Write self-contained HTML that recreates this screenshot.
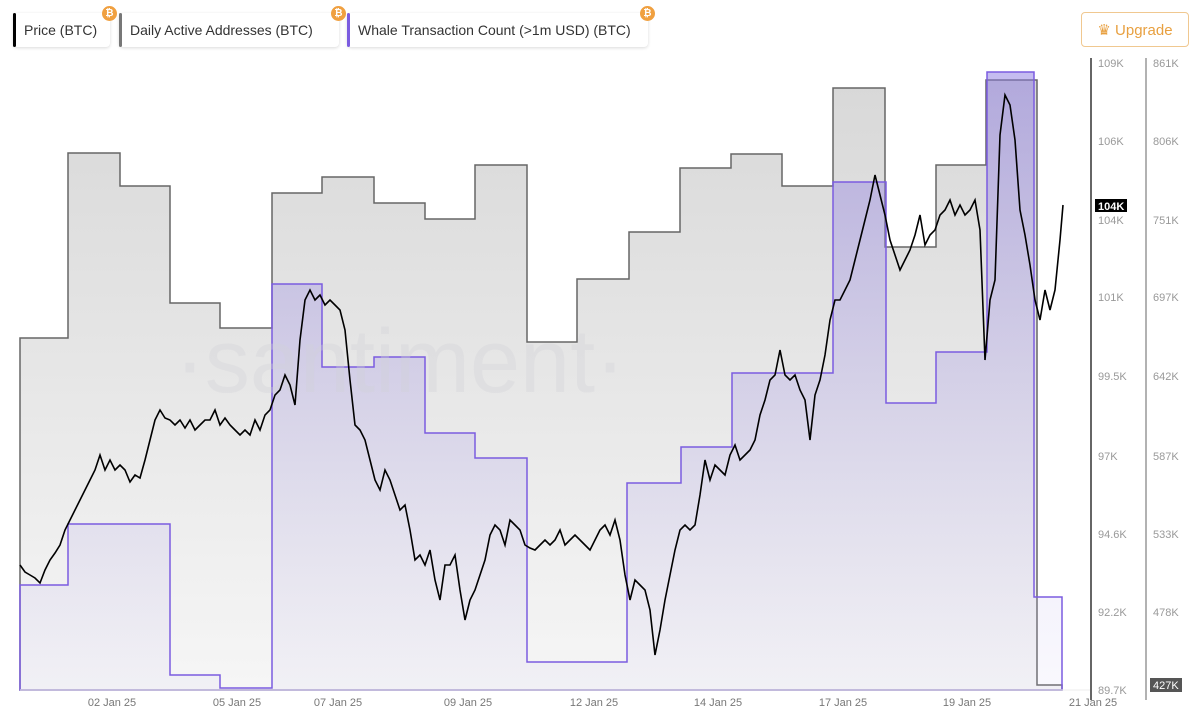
<!DOCTYPE html>
<html><head><meta charset="utf-8"><style>
body{margin:0;width:1199px;height:715px;background:#fff;font-family:"Liberation Sans",sans-serif;overflow:hidden;position:relative}
.lg{position:absolute;top:13px;height:34px;background:#fff;border-radius:4px;box-shadow:0 1px 3px rgba(0,0,0,.15);font-size:14px;color:#333;line-height:34px;padding-left:11px;box-sizing:border-box;white-space:nowrap}
.lg:before{content:"";position:absolute;left:0;top:0;bottom:0;width:3px;border-radius:2px;background:var(--c)}
.b{position:absolute;top:-7px;right:-7px;width:15px;height:15px;border-radius:50%;background:#f0a040;color:#fff;font-size:10px;line-height:15px;text-align:center;font-weight:bold}
.up{position:absolute;left:1081px;top:12px;width:108px;height:35px;border:1px solid #f0c890;border-radius:4px;color:#e8a040;font-size:15px;line-height:35px;text-align:center;box-sizing:border-box}
</style></head><body>
<div class="lg" style="left:13px;width:97px;--c:#000">Price (BTC)<span class="b">₿</span></div>
<div class="lg" style="left:119px;width:220px;--c:#777">Daily Active Addresses (BTC)<span class="b">₿</span></div>
<div class="lg" style="left:347px;width:301px;--c:#7b5ce0">Whale Transaction Count (&gt;1m USD) (BTC)<span class="b">₿</span></div>
<div class="up">♛ Upgrade</div>
<svg width="1199" height="715" style="position:absolute;left:0;top:0" font-family="Liberation Sans, sans-serif">
<defs>
<linearGradient id="g" x1="0" y1="0" x2="0" y2="1"><stop offset="0" stop-color="#d8d8d8"/><stop offset="1" stop-color="#f6f6f6"/></linearGradient>
<linearGradient id="p" x1="0" y1="0" x2="0" y2="1"><stop offset="0" stop-color="#8a78e0" stop-opacity=".5"/><stop offset="1" stop-color="#c8bff0" stop-opacity=".1"/></linearGradient>
</defs>
<path d="M20,690 V338 H68 V153 H120 V186 H170 V303 H220 V328 H272 V193 H322 V177 H374 V203 H425 V219 H475 V165 H527 V342 H577 V279 H629 V232 H680 V168 H731 V154 H782 V186 H833 V88 H885 V247 H936 V165 H986 V80 H1037 V685 H1062 V690 Z" fill="url(#g)" stroke="#666" stroke-width="1.5"/>
<path d="M20,690 V585 H68 V524 H170 V675 H220 V688 H272 V284 H322 V367 H374 V357 H425 V433 H475 V458 H527 V662 H627 V483 H681 V447 H732 V373 H833 V182 H886 V403 H936 V352 H987 V72 H1034 V597 H1062 V690 Z" fill="url(#p)" stroke="#7b5ce0" stroke-width="1.5"/>
<text x="400" y="392" font-size="90" fill="#d0d0d8" fill-opacity=".35" text-anchor="middle">·santiment·</text>
<polyline fill="none" stroke="#000" stroke-width="1.6" points="20,565 25,572 30,575 35,578 40,583 45,570 50,560 55,553 60,545 65,530 70,520 75,510 80,500 85,490 90,480 95,470 100,455 105,470 110,460 115,470 120,465 125,470 130,482 135,475 140,478 145,460 150,440 155,420 160,410 165,418 170,420 175,425 180,420 185,428 190,420 195,430 200,425 205,420 210,420 215,410 220,425 225,418 230,425 235,430 240,435 245,430 250,435 255,420 260,430 265,415 270,410 275,395 280,390 285,375 290,385 295,405 300,340 305,300 310,290 315,300 320,295 325,305 330,300 335,305 340,310 345,330 350,380 355,425 360,430 365,440 370,460 375,480 380,490 385,470 390,480 395,495 400,510 405,505 410,530 415,560 420,555 425,565 430,550 435,580 440,600 445,565 450,565 455,555 460,590 465,620 470,600 475,590 480,575 485,560 490,535 495,525 500,530 505,545 510,520 515,525 520,530 525,545 530,548 535,550 540,545 545,540 550,545 555,540 560,530 565,545 570,540 575,535 580,540 585,545 590,550 595,540 600,530 605,525 610,535 615,520 620,540 625,575 630,600 635,580 640,585 645,590 650,610 655,655 660,630 665,600 670,575 675,550 680,530 685,525 690,530 695,525 700,495 705,460 710,480 715,465 720,470 725,475 730,455 735,445 740,460 745,455 750,450 755,440 760,415 765,400 770,380 775,375 780,350 785,375 790,380 795,375 800,390 805,400 810,440 815,395 820,380 825,355 830,320 835,300 840,300 845,290 850,280 855,260 860,240 865,220 870,200 875,175 880,195 885,215 890,240 895,255 900,270 905,260 910,250 915,235 920,215 925,245 930,235 935,230 940,215 945,210 950,200 955,215 960,205 965,215 970,210 975,200 980,230 985,360 990,300 995,280 1000,135 1005,95 1010,105 1015,140 1020,210 1025,235 1030,265 1035,300 1040,320 1045,290 1050,310 1055,290 1060,240 1063,205"/>
<line x1="20" y1="690" x2="1090" y2="690" stroke="#eee"/>
<line x1="1091" y1="58" x2="1091" y2="700" stroke="#333" stroke-width="1.5"/>
<line x1="1146" y1="58" x2="1146" y2="700" stroke="#999" stroke-width="1.5"/>
<g font-size="11" fill="#999">
<text x="1098" y="67">109K</text><text x="1098" y="145">106K</text><text x="1098" y="224">104K</text><text x="1098" y="301">101K</text><text x="1098" y="380">99.5K</text><text x="1098" y="460">97K</text><text x="1098" y="538">94.6K</text><text x="1098" y="616">92.2K</text><text x="1098" y="694">89.7K</text>
<text x="1153" y="67">861K</text><text x="1153" y="145">806K</text><text x="1153" y="224">751K</text><text x="1153" y="301">697K</text><text x="1153" y="380">642K</text><text x="1153" y="460">587K</text><text x="1153" y="538">533K</text><text x="1153" y="616">478K</text>
</g>
<rect x="1095" y="199" width="32" height="13" fill="#000"/><text x="1098" y="210" font-size="11" fill="#fff" font-weight="bold">104K</text>
<rect x="1150" y="678" width="32" height="14" fill="#555"/><text x="1153" y="689" font-size="11" fill="#fff">427K</text>
<g font-size="11" fill="#777" text-anchor="middle">
<text x="112" y="706">02 Jan 25</text><text x="237" y="706">05 Jan 25</text><text x="338" y="706">07 Jan 25</text><text x="468" y="706">09 Jan 25</text><text x="594" y="706">12 Jan 25</text><text x="718" y="706">14 Jan 25</text><text x="843" y="706">17 Jan 25</text><text x="967" y="706">19 Jan 25</text><text x="1093" y="706">21 Jan 25</text>
</g>
</svg>
</body></html>
